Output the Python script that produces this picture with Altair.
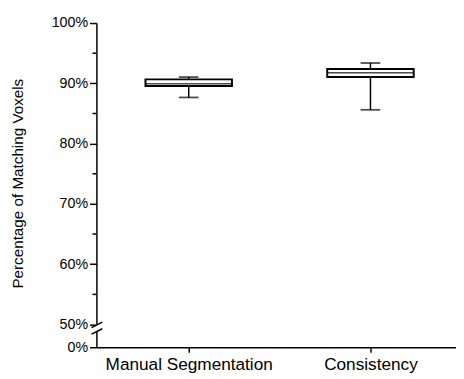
import altair as alt
import pandas as pd

# ---- data ----
categories = ["Manual Segmentation", "Consistency"]
lower_whisker = [87.66, 85.61]
q1 = [89.55, 91.04]
median = [89.95, 91.77]
q3 = [90.66, 92.39]
upper_whisker = [91.04, 93.37]

major_ticks = [50, 60, 70, 80, 90, 100]
minor_ticks = [55, 65, 75, 85, 95]
zero_pos = 46.23          # position on the broken axis where "0%" sits
break_marks = [49.95, 48.85]

box = pd.DataFrame({
    "cat": categories, "lo": lower_whisker, "q1": q1, "med": median,
    "q3": q3, "hi": upper_whisker,
})

FONT = "Liberation Sans"
ydomain = [zero_pos, 100]

xenc = alt.X("cat:N", sort=categories,
             scale=alt.Scale(type="point", padding=0.4892, align=0.519),
             axis=alt.Axis(title=None, labelFont=FONT, labelFontSize=17.5,
                           labelColor="black", labelAngle=0, labelPadding=4,
                           tickSize=5, tickColor="black", tickWidth=1.5,
                           domainColor="black", domainWidth=1.5))

yaxis = alt.Axis(values=[zero_pos] + major_ticks,
                 labelExpr="datum.value < 48 ? '0%' : datum.value + '%'",
                 title="Percentage of Matching Voxels",
                 titleFont=FONT, titleFontSize=15.5, titleFontWeight="normal",
                 titleColor="black", titleAngle=-90, titleBaseline="alphabetic",
                 titleAlign="center", titleX=-75, titleY=163,
                 labelFont=FONT, labelFontSize=14.5, labelColor="black",
                 labelPadding=2, tickSize=7, tickColor="black", tickWidth=1.5,
                 domainColor="black", domainWidth=1.5, grid=False)
yscale = alt.Scale(domain=ydomain, nice=False, zero=False)

base = alt.Chart(box)

whisk = base.mark_rule(color="black", strokeWidth=1.5).encode(
    x=xenc,
    y=alt.Y("lo:Q", scale=yscale, axis=yaxis),
    y2="hi:Q",
)
boxes = base.mark_bar(size=88, fill="white", stroke="black", strokeWidth=2).encode(
    x=xenc, y=alt.Y("q1:Q", scale=yscale), y2="q3:Q"
)
med = base.mark_tick(size=88, thickness=1.5, color="black", orient="horizontal").encode(
    x=xenc, y=alt.Y("med:Q", scale=yscale)
)
cap_lo = base.mark_tick(size=20, thickness=1.8, color="black", orient="horizontal").encode(
    x=xenc, y=alt.Y("lo:Q", scale=yscale)
)
cap_hi = base.mark_tick(size=20, thickness=1.8, color="black", orient="horizontal").encode(
    x=xenc, y=alt.Y("hi:Q", scale=yscale)
)

minor = alt.Chart(pd.DataFrame({"v": minor_ticks})).mark_rule(
    color="black", strokeWidth=1.5).encode(
    x=alt.value(-4), x2=alt.value(0), y=alt.Y("v:Q", scale=yscale)
)

brk = pd.DataFrame({"b": break_marks})
brk["b0"] = brk["b"] - 0.45
brk["b1"] = brk["b"] + 0.45
gap = alt.Chart(pd.DataFrame({"a": [break_marks[1]], "c": [break_marks[0]]})).mark_rule(
    color="white", strokeWidth=3).encode(
    x=alt.value(0), y=alt.Y("a:Q", scale=yscale), y2="c:Q"
)
slashes = alt.Chart(brk).mark_rule(color="black", strokeWidth=1.5).encode(
    x=alt.value(-5), x2=alt.value(6),
    y=alt.Y("b0:Q", scale=yscale), y2="b1:Q"
)

chart = alt.layer(whisk, boxes, med, cap_lo, cap_hi, minor, gap, slashes).properties(
    width=366, height=330,
    autosize=alt.AutoSizeParams(type="none"),
    padding={"left": 90, "top": 12, "right": 0, "bottom": 29},
).configure_view(stroke=None)

chart.save("out.html", embed_options={"renderer": "svg", "actions": False})
